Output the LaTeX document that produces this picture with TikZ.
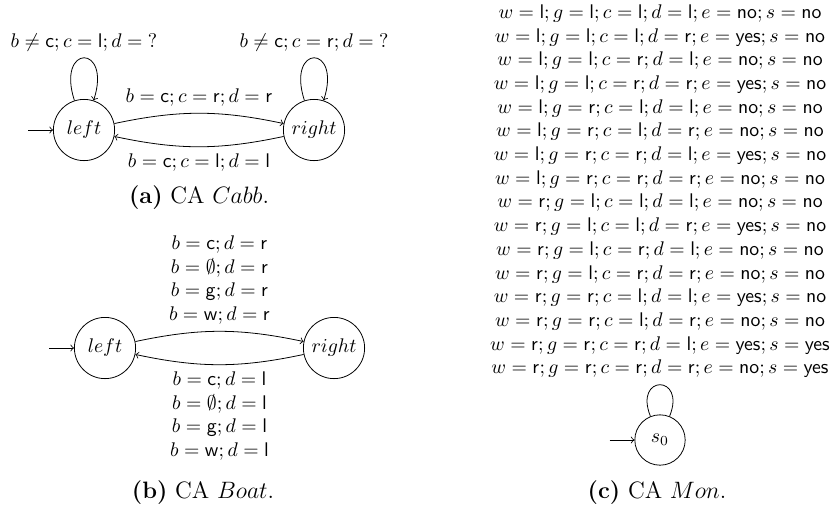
\documentclass[tikz,border=0pt]{standalone}
\usepackage{amsmath}
\usepackage{amssymb}
\usetikzlibrary{positioning}

\begin{document}
\begin{tikzpicture}[x=0.5063pt,y=0.5063pt,
  loc/.style={circle,draw,minimum size=31pt,inner sep=1pt},
  every loop/.style={->,out=108,in=72,min distance=29pt},
  captxt/.style={font=\large}]
  \useasboundingbox (0,0) rectangle (831,-510);

  \node[loc] (left1) at (84,-130) {$left$};
  \node[loc] (right1) at (314,-130) {$right$};
  \coordinate[left=12.5pt of left1] (init1);
  \draw[->] (init1) -- (left1);
  \draw (left1) edge[loop above] node[above] {$b \neq \mathsf{c}; c = \mathsf{l}; d = {?}$} (left1);
  \draw (right1) edge[loop above] node[above] {$b \neq \mathsf{c}; c = \mathsf{r}; d = {?}$} (right1);
  \draw[->] (left1) to[bend left=12] node[above] {$b = \mathsf{c}; c = \mathsf{r}; d = \mathsf{r}$} (right1);
  \draw[->] (right1) to[bend left=12] node[below] {$b = \mathsf{c}; c = \mathsf{l}; d = \mathsf{l}$} (left1);
  \node[captxt] (capa) at (199,-198) {\textbf{(a)} CA $Cabb$.};

  \node[loc] (left2) at (105,-348) {$left$};
  \node[loc] (right2) at (334,-348) {$right$};
  \coordinate[left=12.5pt of left2] (init2);
  \draw[->] (init2) -- (left2);
  \draw[->] (left2) to[bend left=12] node[above,align=center] {$b = \mathsf{c}; d = \mathsf{r}$\\$b = \emptyset; d = \mathsf{r}$\\$b = \mathsf{g}; d = \mathsf{r}$\\$b = \mathsf{w}; d = \mathsf{r}$} (right2);
  \draw[->] (right2) to[bend left=12] node[below,align=center] {$b = \mathsf{c}; d = \mathsf{l}$\\$b = \emptyset; d = \mathsf{l}$\\$b = \mathsf{g}; d = \mathsf{l}$\\$b = \mathsf{w}; d = \mathsf{l}$} (left2);
  \node[captxt] (capb) at (203,-493) {\textbf{(b)} CA $Boat$.};

  \node[loc,minimum size=25.5pt] (s0) at (660,-440) {$s_0$};
  \coordinate[left=12.5pt of s0] (init3);
  \draw[->] (init3) -- (s0);
  \draw (s0) edge[loop above,out=112,in=68,min distance=23pt] node[above,align=center] {
    $w = \mathsf{l}; g = \mathsf{l}; c = \mathsf{l}; d = \mathsf{l}; e = \mathsf{no}; s = \mathsf{no}$\\
    $w = \mathsf{l}; g = \mathsf{l}; c = \mathsf{l}; d = \mathsf{r}; e = \mathsf{yes}; s = \mathsf{no}$\\
    $w = \mathsf{l}; g = \mathsf{l}; c = \mathsf{r}; d = \mathsf{l}; e = \mathsf{no}; s = \mathsf{no}$\\
    $w = \mathsf{l}; g = \mathsf{l}; c = \mathsf{r}; d = \mathsf{r}; e = \mathsf{yes}; s = \mathsf{no}$\\
    $w = \mathsf{l}; g = \mathsf{r}; c = \mathsf{l}; d = \mathsf{l}; e = \mathsf{no}; s = \mathsf{no}$\\
    $w = \mathsf{l}; g = \mathsf{r}; c = \mathsf{l}; d = \mathsf{r}; e = \mathsf{no}; s = \mathsf{no}$\\
    $w = \mathsf{l}; g = \mathsf{r}; c = \mathsf{r}; d = \mathsf{l}; e = \mathsf{yes}; s = \mathsf{no}$\\
    $w = \mathsf{l}; g = \mathsf{r}; c = \mathsf{r}; d = \mathsf{r}; e = \mathsf{no}; s = \mathsf{no}$\\
    $w = \mathsf{r}; g = \mathsf{l}; c = \mathsf{l}; d = \mathsf{l}; e = \mathsf{no}; s = \mathsf{no}$\\
    $w = \mathsf{r}; g = \mathsf{l}; c = \mathsf{l}; d = \mathsf{r}; e = \mathsf{yes}; s = \mathsf{no}$\\
    $w = \mathsf{r}; g = \mathsf{l}; c = \mathsf{r}; d = \mathsf{l}; e = \mathsf{no}; s = \mathsf{no}$\\
    $w = \mathsf{r}; g = \mathsf{l}; c = \mathsf{r}; d = \mathsf{r}; e = \mathsf{no}; s = \mathsf{no}$\\
    $w = \mathsf{r}; g = \mathsf{r}; c = \mathsf{l}; d = \mathsf{l}; e = \mathsf{yes}; s = \mathsf{no}$\\
    $w = \mathsf{r}; g = \mathsf{r}; c = \mathsf{l}; d = \mathsf{r}; e = \mathsf{no}; s = \mathsf{no}$\\
    $w = \mathsf{r}; g = \mathsf{r}; c = \mathsf{r}; d = \mathsf{l}; e = \mathsf{yes}; s = \mathsf{yes}$\\
    $w = \mathsf{r}; g = \mathsf{r}; c = \mathsf{r}; d = \mathsf{r}; e = \mathsf{no}; s = \mathsf{yes}$} (s0);
  \node[captxt] (capc) at (657,-493) {\textbf{(c)} CA $Mon$.};
\end{tikzpicture}
\end{document}
